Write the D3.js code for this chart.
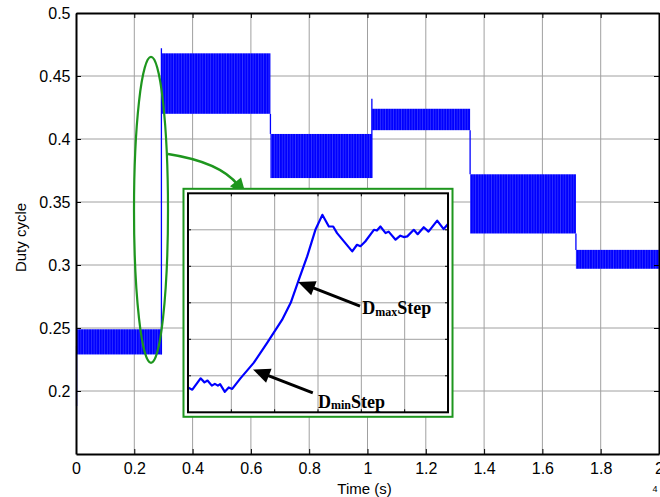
<!DOCTYPE html>
<html lang="en">
<head>
<meta charset="UTF-8">
<title>Duty cycle</title>
<style>
  body { margin: 0; background: #fff; }
  svg { display: block; font-family: "Liberation Sans", Arial, sans-serif; }
  .grid line { stroke: #a0a0a0; stroke-width: 1; }
  .axis path { stroke: #000; stroke-width: 2; }
  .axis line { stroke: #000; stroke-width: 1; }
  .axis text { font-size: 16px; fill: #000; font-family: "Liberation Sans", Arial, sans-serif; }
  .label { font-size: 15px; fill: #000; }
  .note { font-family: "Liberation Serif", "Times New Roman", serif; font-weight: bold; font-size: 18px; }
</style>
</head>
<body>
<svg width="660" height="497"></svg>
<script src="https://cdn.jsdelivr.net/npm/d3@7"></script>
<script>
// ripple band of the duty cycle for each step (time in s)
const segStart = [0.003, 0.293, 0.667, 1.015, 1.352, 1.715];
const segEnd   = [0.293, 0.667, 1.015, 1.352, 1.715, 2.0];
const segLow   = [0.229, 0.420, 0.369, 0.407, 0.325, 0.297];
const segHigh  = [0.249, 0.468, 0.404, 0.424, 0.372, 0.312];

// vertical transitions between bands
const edgeT    = [0.002, 0.293, 0.667, 1.015, 1.352, 1.715];
const edgeFrom = [0.188, 0.229, 0.420, 0.369, 0.407, 0.325];
const edgeTo   = [0.236, 0.472, 0.404, 0.432, 0.372, 0.312];

// zoomed transient in the inset (grid units, 6 x 6 cells)
const zoomX = [0, 0.10, 0.29, 0.38, 0.45, 0.55, 0.62, 0.69, 0.74, 0.85, 0.94, 1.02, 1.21, 1.52, 1.83, 2.17,
  2.37, 2.56, 2.75, 2.94, 3.10, 3.25, 3.35, 3.44, 3.79, 3.90, 3.98, 4.09, 4.29, 4.36, 4.44, 4.56, 4.63,
  4.79, 4.90, 4.98, 5.06, 5.21, 5.30, 5.44, 5.55, 5.75, 5.90, 6.0];
const zoomY = [0.68, 0.62, 0.93, 0.82, 0.87, 0.73, 0.78, 0.73, 0.77, 0.56, 0.68, 0.64, 0.93, 1.36, 1.91, 2.53,
  3.0, 3.64, 4.27, 5.0, 5.41, 5.09, 5.09, 4.91, 4.41, 4.59, 4.55, 4.68, 5.0, 4.98, 5.09, 4.91, 4.95,
  4.73, 4.84, 4.80, 4.82, 5.0, 4.88, 5.07, 4.95, 5.25, 5.02, 5.16];

const xTicks = [0, 0.2, 0.4, 0.6, 0.8, 1, 1.2, 1.4, 1.6, 1.8, 2];
const xTickLabels = ["0", "0.2", "0.4", "0.6", "0.8", "1", "1.2", "1.4", "1.6", "1.8", "2"];
const yTicks = [0.2, 0.25, 0.3, 0.35, 0.4, 0.45, 0.5];
const yTickLabels = ["0.2", "0.25", "0.3", "0.35", "0.4", "0.45", "0.5"];

const svg = d3.select("svg");
const blue = "#0000ff";
const green = "#1e961e";

const mLeft = 76, mRight = 659, mTop = 13, mBottom = 454;
const x = d3.scaleLinear().domain([0, 2]).range([mLeft, mRight]);
const y = d3.scaleLinear().domain([0.15, 0.5]).range([mBottom, mTop]);

// faint streaks so the dense ripple doesn't look like a flat box
const defs = svg.append("defs");
const pat = defs.append("pattern")
    .attr("id", "ripple")
    .attr("patternUnits", "userSpaceOnUse")
    .attr("width", 5.3).attr("height", 20);
pat.append("rect").attr("width", 5.3).attr("height", 20).attr("fill", blue);
pat.append("rect").attr("x", 1.2).attr("width", 0.5).attr("height", 20).attr("fill", "#4d4dff");
pat.append("rect").attr("x", 3.9).attr("width", 0.4).attr("height", 20).attr("fill", "#7373ff");

// grid
svg.append("g").attr("class", "grid")
    .selectAll("line").data(xTicks.slice(1, -1)).join("line")
    .attr("x1", d => x(d)).attr("x2", d => x(d))
    .attr("y1", mTop).attr("y2", mBottom);
svg.append("g").attr("class", "grid")
    .selectAll("line").data(yTicks.slice(0, -1)).join("line")
    .attr("x1", mLeft).attr("x2", mRight)
    .attr("y1", d => y(d)).attr("y2", d => y(d));

// duty cycle bands
const segs = segStart.map((s, i) => ({ s, e: segEnd[i], lo: segLow[i], hi: segHigh[i] }));
svg.append("g").selectAll("rect").data(segs).join("rect")
    .attr("x", d => x(d.s))
    .attr("width", d => x(d.e) - x(d.s))
    .attr("y", d => y(d.hi))
    .attr("height", d => y(d.lo) - y(d.hi))
    .attr("fill", "url(#ripple)");

const edges = edgeT.map((t, i) => ({ t, a: edgeFrom[i], b: edgeTo[i] }));
svg.append("g").selectAll("line").data(edges).join("line")
    .attr("x1", d => x(d.t)).attr("x2", d => x(d.t))
    .attr("y1", d => y(d.a)).attr("y2", d => y(d.b))
    .attr("stroke", blue).attr("stroke-width", 1.3);

// axes, ticks pointing inward
svg.append("g").attr("class", "axis")
    .attr("transform", `translate(0,${mBottom})`)
    .call(d3.axisBottom(x).tickValues(xTicks).tickFormat((d, i) => xTickLabels[i])
        .tickSizeInner(-5).tickSizeOuter(0).tickPadding(9));
svg.append("g").attr("class", "axis")
    .attr("transform", `translate(0,${mTop})`)
    .call(d3.axisTop(x).tickValues(xTicks).tickFormat("").tickSizeInner(-5).tickSizeOuter(0));
svg.append("g").attr("class", "axis")
    .attr("transform", `translate(${mLeft},0)`)
    .call(d3.axisLeft(y).tickValues(yTicks).tickFormat((d, i) => yTickLabels[i])
        .tickSizeInner(-5).tickSizeOuter(0).tickPadding(5.5));
svg.append("g").attr("class", "axis")
    .attr("transform", `translate(${mRight},0)`)
    .call(d3.axisRight(y).tickValues(yTicks).tickFormat("").tickSizeInner(-5).tickSizeOuter(0));

svg.append("text").attr("class", "label")
    .attr("x", (mLeft + mRight) / 2 - 3).attr("y", 494)
    .attr("text-anchor", "middle").text("Time (s)");
svg.append("text").attr("class", "label")
    .attr("transform", `translate(25.5,${(mTop + mBottom) / 2 + 4}) rotate(-90)`)
    .attr("text-anchor", "middle").text("Duty cycle");
svg.append("text").attr("x", 655).attr("y", 492)
    .attr("text-anchor", "middle").attr("font-size", 9).text("4");

function head(g, tx, ty, ang, len, w, col) {
    const bx = tx - len * Math.cos(ang), by = ty - len * Math.sin(ang);
    const px = -Math.sin(ang) * w / 2, py = Math.cos(ang) * w / 2;
    g.append("path")
        .attr("d", `M${tx},${ty}L${bx + px},${by + py}L${bx - px},${by - py}Z`)
        .attr("fill", col);
}

// green ellipse around the step and curved arrow to the inset
const ann = svg.append("g");
ann.append("ellipse")
    .attr("cx", x(0.2573)).attr("cy", y(0.3437))
    .attr("rx", x(0.0583) - x(0)).attr("ry", y(0) - y(0.1214))
    .attr("fill", "none").attr("stroke", green).attr("stroke-width", 2.2);
{
    const p0 = [x(0.3156), y(0.3881)], c = [x(0.494), y(0.3817)], p2 = [x(0.5557), y(0.3635)];
    ann.append("path")
        .attr("d", `M${p0[0]},${p0[1]}Q${c[0]},${c[1]} ${p2[0]},${p2[1]}`)
        .attr("fill", "none").attr("stroke", green).attr("stroke-width", 2.5);
    const ang = Math.atan2(p2[1] - c[1], p2[0] - c[0]);
    head(ann, p2[0] + 13 * Math.cos(ang), p2[1] + 13 * Math.sin(ang), ang, 17, 14, green);
}

// inset
const ix = d3.scaleLinear().domain([0, 6]).range([x(0.3842), x(1.2762)]);
const iy = d3.scaleLinear().domain([0, 6]).range([y(0.1831), y(0.3569)]);
const inset = svg.append("g");
inset.append("rect")
    .attr("x", ix(0) - 4.5).attr("y", iy(6) - 4.5)
    .attr("width", ix(6) - ix(0) + 9).attr("height", iy(0) - iy(6) + 9)
    .attr("fill", "#fff").attr("stroke", green).attr("stroke-width", 2);
const cells = [1, 2, 3, 4, 5];
inset.append("g").attr("class", "grid").selectAll("line").data(cells).join("line")
    .attr("x1", d => ix(d)).attr("x2", d => ix(d)).attr("y1", iy(0)).attr("y2", iy(6));
inset.append("g").attr("class", "grid").selectAll("line").data(cells).join("line")
    .attr("y1", d => iy(d)).attr("y2", d => iy(d)).attr("x1", ix(0)).attr("x2", ix(6));
inset.append("g").selectAll("line").data(cells.flatMap(d => [
        [ix(d), iy(0), ix(d), iy(0) - 3], [ix(d), iy(6), ix(d), iy(6) + 3],
        [ix(0), iy(d), ix(0) + 3, iy(d)], [ix(6), iy(d), ix(6) - 3, iy(d)]]))
    .join("line")
    .attr("x1", d => d[0]).attr("y1", d => d[1]).attr("x2", d => d[2]).attr("y2", d => d[3])
    .attr("stroke", "#000").attr("stroke-width", 1);
inset.append("path")
    .datum(zoomX.map((v, i) => [v, zoomY[i]]))
    .attr("d", d3.line().x(d => ix(d[0])).y(d => iy(d[1])))
    .attr("fill", "none").attr("stroke", blue).attr("stroke-width", 2.2)
    .attr("stroke-linejoin", "round");
inset.append("rect")
    .attr("x", ix(0)).attr("y", iy(6))
    .attr("width", ix(6) - ix(0)).attr("height", iy(0) - iy(6))
    .attr("fill", "none").attr("stroke", "#000").attr("stroke-width", 2);

// step-size annotations
const notes = [
    { tail: [3.97, 2.91], tip: [2.54, 3.57], pos: [4.02, 2.69], sub: "max" },
    { tail: [2.88, 0.53], tip: [1.50, 1.17], pos: [3.0, 0.13], sub: "min" }
];
notes.forEach(n => {
    const t0 = [ix(n.tail[0]), iy(n.tail[1])], t1 = [ix(n.tip[0]), iy(n.tip[1])];
    const ang = Math.atan2(t1[1] - t0[1], t1[0] - t0[0]);
    const len = 17;
    inset.append("line")
        .attr("x1", t0[0]).attr("y1", t0[1])
        .attr("x2", t1[0] - (len - 2) * Math.cos(ang)).attr("y2", t1[1] - (len - 2) * Math.sin(ang))
        .attr("stroke", "#000").attr("stroke-width", 3);
    head(inset, t1[0], t1[1], ang, len, 15, "#000");
    const tx = inset.append("text").attr("class", "note")
        .attr("x", ix(n.pos[0])).attr("y", iy(n.pos[1]));
    tx.append("tspan").text("D");
    tx.append("tspan").attr("font-size", 12).attr("dy", 1.5).text(n.sub);
    tx.append("tspan").attr("dy", -1.5).text("Step");
});
</script>
</body>
</html>
